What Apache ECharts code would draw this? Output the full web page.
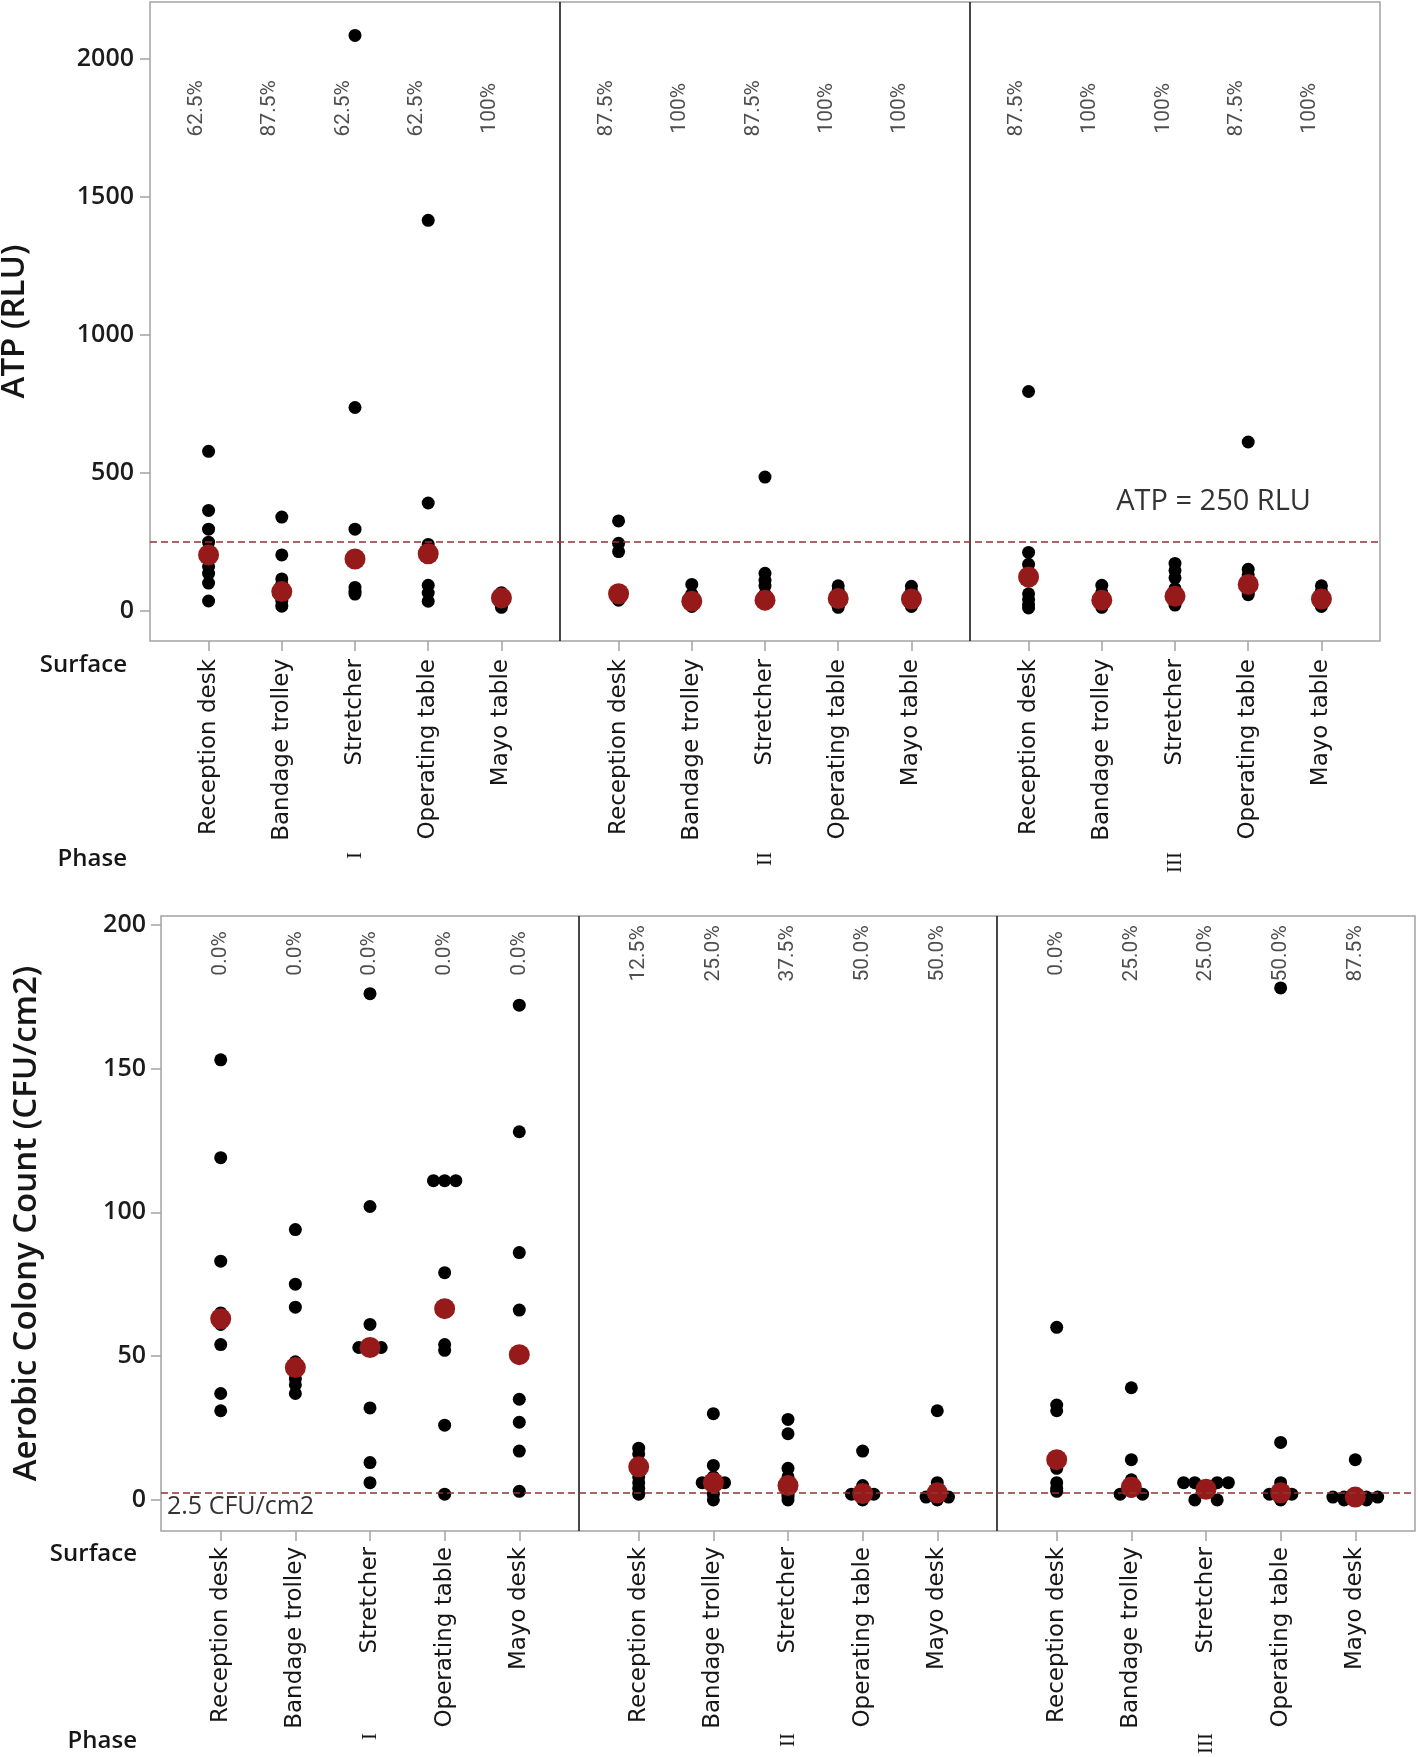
<!DOCTYPE html>
<html>
<head>
<meta charset="utf-8">
<script src="https://cdn.jsdelivr.net/npm/echarts@6/dist/echarts.min.js"></script>
<style>
  html, body { margin: 0; padding: 0; background: #fff; }
  #chart { width: 1418px; height: 1757px; }
</style>
</head>
<body>
<div id="chart"></div>
<script>
// ---- data ----
const phases = ["I", "II", "III"];
const surfacesAtp = ["Reception desk", "Bandage trolley", "Stretcher", "Operating table", "Mayo table"];
const surfacesAcc = ["Reception desk", "Bandage trolley", "Stretcher", "Operating table", "Mayo desk"];

// ATP (RLU), 8 swabs per surface
const atpPhaseI = [
  [577, 363, 295, 248, 160, 135, 100, 35],
  [339, 202, 115, 95, 75, 55, 35, 16],
  [2084, 736, 295, 200, 175, 84, 70, 60],
  [1414, 390, 240, 212, 200, 92, 64, 34],
  [65, 55, 48, 40, 35, 28, 20, 12]
];
const atpPhaseII = [
  [325, 244, 214, 65, 55, 48, 42, 38],
  [95, 60, 45, 35, 30, 25, 20, 15],
  [484, 135, 110, 89, 60, 45, 35, 25],
  [90, 75, 55, 45, 40, 30, 20, 12],
  [88, 70, 55, 45, 38, 30, 22, 15]
];
const atpPhaseIII = [
  [794, 211, 168, 140, 61, 40, 20, 10],
  [92, 65, 50, 40, 35, 25, 18, 12],
  [171, 145, 119, 80, 60, 45, 30, 20],
  [611, 150, 130, 105, 90, 75, 65, 58],
  [90, 70, 55, 45, 38, 30, 22, 15]
];
const atpMedian = [
  [202, 69, 187, 206, 46],
  [61, 34, 38, 44, 42],
  [122, 38, 52, 95, 42]
];
const atpPass = [
  ["62.5%", "87.5%", "62.5%", "62.5%", "100%"],
  ["87.5%", "100%", "87.5%", "100%", "100%"],
  ["87.5%", "100%", "100%", "87.5%", "100%"]
];
const atpTicks = [0, 500, 1000, 1500, 2000];

// Aerobic colony count (CFU/cm2)
const accPhaseI = [
  [153, 119, 83, 65, 61, 54, 37, 31],
  [94, 75, 67, 48, 44, 42, 40, 37],
  [176, 102, 61, 53, 53, 32, 13, 6],
  [111, 111, 111, 79, 54, 52, 26, 2],
  [172, 128, 86, 66, 35, 27, 17, 3]
];
const accPhaseII = [
  [18, 16, 13, 11, 8, 6, 4, 2],
  [30, 12, 8, 6, 6, 6, 2, 0],
  [28, 23, 11, 8, 5, 2, 1, 0],
  [17, 5, 4, 3, 2, 2, 2, 0],
  [31, 6, 4, 3, 1, 1, 1, 0]
];
const accPhaseIII = [
  [60, 33, 31, 13, 11, 6, 4, 3],
  [39, 14, 7, 5, 4, 3, 2, 2],
  [6, 6, 6, 6, 4, 3, 0, 0],
  [178, 20, 6, 3, 2, 2, 1, 0],
  [14, 2, 1, 1, 1, 1, 0, 0]
];
const accMedian = [
  [63, 46, 53, 66.5, 50.5],
  [11.5, 6, 5, 2.2, 2.5],
  [14, 4.5, 3.7, 2.5, 1]
];
const accPass = [
  ["0.0%", "0.0%", "0.0%", "0.0%", "0.0%"],
  ["12.5%", "25.0%", "37.5%", "50.0%", "50.0%"],
  ["0.0%", "25.0%", "25.0%", "50.0%", "87.5%"]
];
const accTicks = [0, 50, 100, 150, 200];

// ---- layout helpers ----
const PHASE_GAP = 5.6;   // x distance between phase blocks (in surface steps)
const JITTER = 0.15;     // sideways step for identical readings
const DIVIDERS = [4.8, 10.4];

function catX(p, c) { return +(p * PHASE_GAP + c).toFixed(1); }

// spread identical readings side by side around the category centre
function dodge(vals) {
  const counts = {}, seen = {};
  vals.forEach(v => counts[v] = (counts[v] || 0) + 1);
  return vals.map(v => {
    const k = counts[v];
    const i = seen[v] = (seen[v] || 0) + 1;
    let slot;
    if (k % 2) slot = i === 1 ? 0 : (i % 2 === 0 ? -(i / 2) : (i - 1) / 2);
    else slot = i % 2 ? -((i + 1) / 2) : i / 2;
    return slot * JITTER;
  });
}

const GRAY = "#a3a3a3";
const TXT = "#161616";

function buildPanel(gi, cfg) {
  const tickX = [], names = {};
  const points = [], medians = [], passLabels = [];
  cfg.values.forEach((phase, p) => {
    phase.forEach((vals, c) => {
      const x = catX(p, c);
      tickX.push(x);
      names[x.toFixed(1)] = cfg.surfaces[c];
      const offs = dodge(vals);
      vals.forEach((v, i) => points.push([x + offs[i], v]));
      medians.push([x, cfg.medians[p][c]]);
      passLabels.push({ value: [x + cfg.labelDx, cfg.labelY], name: cfg.pass[p][c] });
    });
  });
  const phaseX = phases.map((_, p) => catX(p, 2));

  const xAxes = [
    {
      gridIndex: gi, type: "value", min: -0.8, max: 16,
      splitLine: { show: false }, axisLine: { show: false, onZero: false },
      axisTick: { show: true, customValues: tickX, length: 10, lineStyle: { color: GRAY, width: 1.5 } },
      axisLabel: {
        customValues: tickX, rotate: 90, margin: cfg.catMargin,
        formatter: v => names[(+v).toFixed(1)] || "",
        fontFamily: "DejaVu Sans", fontSize: 23, color: TXT
      }
    },
    {
      gridIndex: gi, type: "value", min: -0.8, max: 16, position: "bottom",
      splitLine: { show: false }, axisLine: { show: false, onZero: false }, axisTick: { show: false },
      axisLabel: {
        customValues: phaseX, rotate: 90, margin: cfg.phaseMargin,
        formatter: v => phases[phaseX.indexOf(+v)] || "",
        fontFamily: "Liberation Serif", fontSize: 21, color: TXT
      }
    }
  ];

  const yAxis = {
    gridIndex: gi, type: "value", min: cfg.yMin, max: cfg.yMax,
    splitLine: { show: false }, axisLine: { show: false, onZero: false },
    axisTick: { show: true, customValues: cfg.ticks, length: 10, lineStyle: { color: GRAY, width: 1.5 } },
    axisLabel: {
      customValues: cfg.ticks, margin: cfg.tickMargin, formatter: v => String(v),
      fontFamily: "Open Sans", fontWeight: 600, fontSize: 25, color: "#1c1c1c"
    },
    name: cfg.yName, nameLocation: "middle", nameGap: cfg.nameGap,
    nameTextStyle: { fontFamily: "Open Sans", fontWeight: 600, fontSize: 33, color: TXT }
  };

  const series = [
    {
      type: "scatter", xAxisIndex: gi * 2, yAxisIndex: gi,
      data: points, symbolSize: 13, itemStyle: { color: "#000", opacity: 1 }, z: 3,
      markLine: {
        silent: true, symbol: "none", label: { show: false },
        lineStyle: { color: "#1a1a1a", type: "solid", width: 1.6 },
        data: DIVIDERS.map(x => ({ xAxis: x }))
      }
    },
    {
      type: "scatter", xAxisIndex: gi * 2, yAxisIndex: gi,
      data: medians, symbolSize: 21, itemStyle: { color: "#971a1a", opacity: 1 }, z: 4,
      markLine: {
        silent: true, symbol: "none",
        lineStyle: { color: "#8e3434", type: [7, 4], width: 1.5 },
        label: {
          show: true, position: cfg.thrPos, distance: cfg.thrDist,
          formatter: cfg.thrLabel,
          fontFamily: "Open Sans", fontSize: cfg.thrSize, color: "#333"
        },
        data: [{ yAxis: cfg.threshold }]
      }
    },
    {
      type: "scatter", xAxisIndex: gi * 2, yAxisIndex: gi,
      data: passLabels, symbolSize: 1, itemStyle: { color: "rgba(0,0,0,0)" }, z: 5,
      label: {
        show: true, position: "inside", rotate: 90,
        formatter: p => p.name,
        fontFamily: "Roboto", fontSize: 21, color: "#222"
      }
    }
  ];
  return { xAxes, yAxis, series };
}

const atpPanel = buildPanel(0, {
  values: [atpPhaseI, atpPhaseII, atpPhaseIII], medians: atpMedian, pass: atpPass,
  surfaces: surfacesAtp, yMin: -110, yMax: 2205, ticks: atpTicks, yName: "ATP (RLU)",
  labelY: 1820, labelDx: -0.16, catMargin: 18, phaseMargin: 211, tickMargin: 16, nameGap: 119,
  threshold: 250, thrLabel: "ATP = 250 RLU", thrPos: "insideEndTop", thrDist: [69, 25], thrSize: 29
});
const accPanel = buildPanel(1, {
  values: [accPhaseI, accPhaseII, accPhaseIII], medians: accMedian, pass: accPass,
  surfaces: surfacesAcc, yMin: -10.8, yMax: 203, ticks: accTicks, yName: "Aerobic Colony Count (CFU/cm2)",
  labelY: 190, labelDx: 0, catMargin: 16, phaseMargin: 202, tickMargin: 15, nameGap: 118,
  threshold: 2.5, thrLabel: "2.5 CFU/cm2", thrPos: "insideStartBottom", thrDist: [6, 2], thrSize: 25
});

const sideText = (x, y, text) => ({
  type: "text", x, y,
  style: { text, align: "right", verticalAlign: "middle", fontFamily: "Open Sans", fontWeight: 600, fontSize: 24, fill: TXT }
});

const chart = echarts.init(document.getElementById("chart"));
chart.setOption({
  animation: false,
  backgroundColor: "#fff",
  grid: [
    { left: 150, top: 2, width: 1230, height: 639, show: true, borderColor: GRAY, borderWidth: 1.5, outerBoundsMode: "none", containLabel: false },
    { left: 161, top: 916, width: 1254, height: 615, show: true, borderColor: GRAY, borderWidth: 1.5, outerBoundsMode: "none", containLabel: false }
  ],
  xAxis: [...atpPanel.xAxes, ...accPanel.xAxes],
  yAxis: [atpPanel.yAxis, accPanel.yAxis],
  series: [...atpPanel.series, ...accPanel.series],
  graphic: [
    sideText(127, 665, "Surface"),
    sideText(127, 859, "Phase"),
    sideText(137, 1554, "Surface"),
    sideText(137, 1741, "Phase")
  ]
});
</script>
</body>
</html>
